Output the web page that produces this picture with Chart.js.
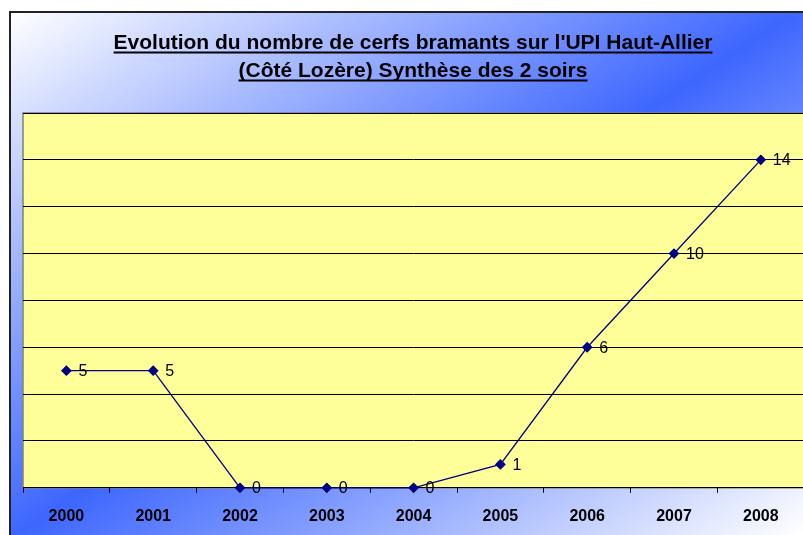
<!DOCTYPE html>
<html><head><meta charset="utf-8">
<script src="https://cdn.jsdelivr.net/npm/chart.js@4/dist/chart.umd.min.js"></script>
<style>html,body{margin:0;padding:0;background:#fff;overflow:hidden}#wrap{width:803px;height:535px;position:relative;overflow:hidden}</style>
</head><body><div id="wrap"><canvas id="c" width="810" height="535"></canvas></div>
<script>
const categories = ['2000','2001','2002','2003','2004','2005','2006','2007','2008'];
const values = [5, 5, 0, 0, 0, 1, 6, 10, 14];
const titleLines = ["Evolution du nombre de cerfs bramants sur l'UPI Haut-Allier", "(Côté Lozère) Synthèse des 2 soirs"];

const bgPlugin = {
  id: 'bg',
  beforeDraw(chart) {
    const ctx = chart.ctx, W = chart.width, H = chart.height;
    ctx.save();
    ctx.fillStyle = '#fff';
    ctx.fillRect(0, 0, W, H);
    const g = ctx.createLinearGradient(10, 12, 498, 739);
    g.addColorStop(0, '#ffffff');
    g.addColorStop(0.5, '#3d66ff');
    g.addColorStop(1, '#ffffff');
    ctx.fillStyle = g;
    ctx.fillRect(10, 12, W - 10, H - 12);
    ctx.strokeStyle = '#222';
    ctx.lineWidth = 2;
    ctx.beginPath();
    ctx.moveTo(10, H); ctx.lineTo(10, 12); ctx.lineTo(W, 12);
    ctx.stroke();
    // title
    ctx.fillStyle = '#000';
    ctx.font = 'bold 21px "Liberation Sans", Arial, sans-serif';
    ctx.textAlign = 'center';
    ctx.textBaseline = 'alphabetic';
    const cx = 413, ys = [49, 77];
    titleLines.forEach((t, i) => {
      ctx.fillText(t, cx, ys[i]);
      const w = ctx.measureText(t).width;
      ctx.fillRect(cx - w / 2, ys[i] + 2.5, w, 2);
    });
    // plot area
    const a = chart.chartArea;
    ctx.fillStyle = '#ffff99';
    ctx.fillRect(a.left, a.top, a.right - a.left, a.bottom - a.top);
    ctx.strokeStyle = '#808080';
    ctx.lineWidth = 1.5;
    ctx.strokeRect(a.left, a.top, a.right - a.left + 5, a.bottom - a.top);
    ctx.restore();
  },
  afterDatasetsDraw(chart) {
    const ctx = chart.ctx;
    const meta = chart.getDatasetMeta(0);
    ctx.save();
    ctx.fillStyle = '#000';
    ctx.font = '16px "Liberation Sans", Arial, sans-serif';
    ctx.textAlign = 'left';
    ctx.textBaseline = 'middle';
    meta.data.forEach((p, i) => {
      ctx.fillText(String(values[i]), p.x + 12, p.y + 1);
    });
    ctx.restore();
  }
};

new Chart(document.getElementById('c'), {
  type: 'line',
  data: {
    labels: categories,
    datasets: [{
      data: values,
      borderColor: '#000080',
      backgroundColor: '#000080',
      borderWidth: 1.3,
      pointStyle: 'rectRot',
      pointRadius: 4.5,
      pointHoverRadius: 4.5,
      tension: 0,
      clip: false
    }]
  },
  options: {
    responsive: false,
    animation: false,
    events: [],
    layout: { padding: { left: 23, top: 113, right: 0, bottom: -5 } },
    plugins: { legend: { display: false }, title: { display: false }, tooltip: { enabled: false } },
    scales: {
      x: {
        offset: true,
        grid: { offset: true, drawOnChartArea: false, drawTicks: true, tickLength: 5, color: '#000' },
        border: { display: true, color: '#000', width: 1 },
        ticks: { color: '#000', font: { family: '"Liberation Sans", Arial, sans-serif', size: 16, weight: 'bold' }, padding: 14, maxRotation: 0, autoSkip: false }
      },
      y: {
        min: 0, max: 16,
        ticks: { display: false, stepSize: 2 },
        grid: { color: '#000', lineWidth: 1, drawTicks: false },
        border: { display: false }
      }
    }
  },
  plugins: [bgPlugin]
});
</script>
</body></html>
